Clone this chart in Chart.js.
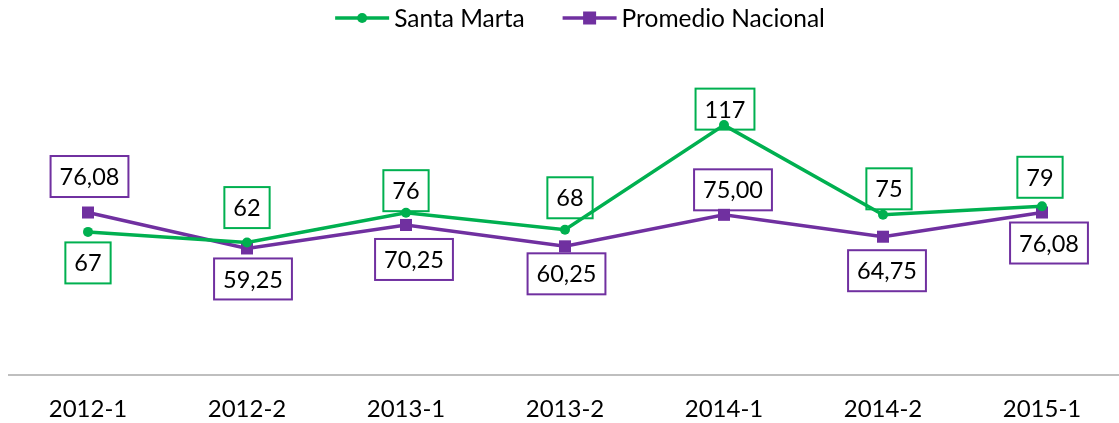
<!DOCTYPE html>
<html>
<head>
<meta charset="utf-8">
<script src="https://cdn.jsdelivr.net/npm/chart.js@4/dist/chart.umd.min.js"></script>
<style>
html,body{margin:0;padding:0;background:#fff;overflow:hidden;}
#wrap{width:1130px;height:423px;}
</style>
</head>
<body>
<div id="wrap"><canvas id="c" width="1130" height="423"></canvas></div>
<script>
const categories = ['2012-1','2012-2','2013-1','2013-2','2014-1','2014-2','2015-1'];
const santaMarta = [67, 62, 76, 68, 117, 75, 79];
const promedioNacional = [76.08, 59.25, 70.25, 60.25, 75.00, 64.75, 76.08];
const seriesNames = ['Santa Marta', 'Promedio Nacional'];

// label placement (offsets from the point, in px)
const smLabelDX = [0, 0, 0, 5, 1, 6, -2];
const smLabelDY = [31, -35, -22, -32, -16, -26, -29];
const pnLabelDX = [1.5, 6, 8, 1.5, 9, 4, 7];
const pnLabelDY = [-36, 30.5, 34.5, 27.5, -25, 34, 30.5];

const GREEN = '#00B050';
const PURPLE = '#7030A0';
const FONT = 'Lato, "Open Sans", sans-serif';

const fmtSM = v => String(Math.round(v));
const fmtPN = v => v.toFixed(2).replace('.', ',');

const labelPlugin = {
  id: 'boxLabels',
  beforeDatasetsDraw(chart) {
    const ctx = chart.ctx;
    const cfg = [
      {fmt: fmtSM, dx: smLabelDX, dy: smLabelDY, color: GREEN},
      {fmt: fmtPN, dx: pnLabelDX, dy: pnLabelDY, color: PURPLE}
    ];
    ctx.save();
    ctx.font = '23.5px ' + FONT;
    ctx.textAlign = 'center';
    ctx.textBaseline = 'middle';
    chart.data.datasets.forEach((ds, i) => {
      const meta = chart.getDatasetMeta(i);
      const c = cfg[i];
      meta.data.forEach((pt, j) => {
        const txt = c.fmt(ds.data[j]);
        const cx = pt.x + c.dx[j];
        const cy = pt.y + c.dy[j];
        const w = ctx.measureText(txt).width + 18;
        const h = 41;
        ctx.fillStyle = '#fff';
        ctx.fillRect(cx - w/2, cy - h/2, w, h);
        ctx.strokeStyle = c.color;
        ctx.lineWidth = 2;
        ctx.strokeRect(cx - w/2, cy - h/2, w, h);
        ctx.fillStyle = '#000';
        ctx.fillText(txt, cx, cy + 1);
      });
    });
    ctx.restore();
  }
};

const legendPlugin = {
  id: 'customLegend',
  afterDraw(chart) {
    const ctx = chart.ctx;
    ctx.save();
    ctx.font = '24.5px ' + FONT;
    const lineLen = 54, gapText = 5, gapItems = 38, y = 18;
    const widths = seriesNames.map(n => ctx.measureText(n).width);
    const total = lineLen*2 + gapText*2 + widths[0] + widths[1] + gapItems;
    let x = 580 - total/2;
    const colors = [GREEN, PURPLE];
    seriesNames.forEach((n, i) => {
      ctx.strokeStyle = colors[i];
      ctx.lineWidth = 3.5;
      ctx.beginPath();
      ctx.moveTo(x, y);
      ctx.lineTo(x + lineLen, y);
      ctx.stroke();
      ctx.fillStyle = colors[i];
      const mx = x + lineLen/2;
      if (i === 0) {
        ctx.beginPath();
        ctx.arc(mx, y, 5, 0, Math.PI*2);
        ctx.fill();
      } else {
        ctx.fillRect(mx - 6.5, y - 6.5, 13, 13);
      }
      x += lineLen + gapText;
      ctx.fillStyle = '#000';
      ctx.textAlign = 'left';
      ctx.textBaseline = 'middle';
      ctx.fillText(n, x, y + 1);
      x += widths[i] + gapItems;
    });
    ctx.restore();
  }
};

new Chart(document.getElementById('c'), {
  type: 'line',
  data: {
    labels: categories,
    datasets: [
      {
        label: seriesNames[0],
        data: santaMarta,
        borderColor: GREEN,
        backgroundColor: GREEN,
        borderWidth: 3.5,
        pointStyle: 'circle',
        pointRadius: 5,
        pointHoverRadius: 5,
        pointBorderWidth: 0,
        tension: 0
      },
      {
        label: seriesNames[1],
        data: promedioNacional,
        borderColor: PURPLE,
        backgroundColor: PURPLE,
        borderWidth: 3.5,
        pointStyle: 'rect',
        pointRadius: 8.5,
        pointHoverRadius: 8.5,
        pointBorderWidth: 0,
        tension: 0
      }
    ]
  },
  options: {
    responsive: false,
    animation: false,
    devicePixelRatio: 1,
    layout: {padding: {top: 76, left: 8, right: 0, bottom: 0}},
    plugins: {legend: {display: false}, tooltip: {enabled: false}},
    scales: {
      x: {
        offset: true,
        grid: {display: false, drawTicks: false, tickLength: 0},
        border: {display: true, color: '#BFBFBF', width: 2},
        ticks: {color: '#000', font: {family: FONT, size: 24}, padding: 20, maxRotation: 0, autoSkip: false},
        afterFit: s => { s.height = 48; }
      },
      y: {
        display: false,
        min: 0,
        max: 140
      }
    }
  },
  plugins: [labelPlugin, legendPlugin]
});
</script>
</body>
</html>
